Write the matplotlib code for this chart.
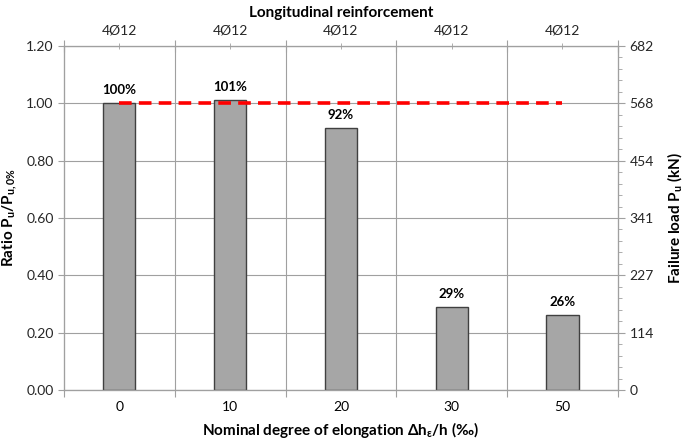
import numpy as np
import matplotlib.pyplot as plt
from matplotlib.ticker import AutoMinorLocator, FixedLocator

plt.rcParams['font.family'] = ['Lato', 'DejaVu Sans']
plt.rcParams['mathtext.fontset'] = 'custom'
plt.rcParams['mathtext.rm'] = 'Lato'
plt.rcParams['mathtext.it'] = 'Lato:italic'
plt.rcParams['mathtext.bf'] = 'Lato:bold'

# data
elongation = ['0', '10', '20', '30', '50']
reinforcement = ['4Ø12', '4Ø12', '4Ø12', '4Ø12', '4Ø12']
ratio = [1.00, 1.01, 0.915, 0.29, 0.262]
ratio_labels = ['100%', '101%', '92%', '29%', '26%']
ref_ratio = 1.0
right_ticks = ['0', '114', '227', '341', '454', '568', '682']

grey = '#a0a0a0'
x = np.arange(len(elongation))

fig = plt.figure(figsize=(6.85, 4.45), dpi=100)
ax = fig.add_axes([0.0934, 0.1236, 0.8086, 0.773])

ax.bar(x, ratio, width=0.29, color='#a6a6a6', edgecolor='#404040', linewidth=1, zorder=3)
for xi, r, lab in zip(x, ratio, ratio_labels):
    ax.text(xi, r + 0.025, lab, ha='center', va='bottom', fontsize=9.5, fontweight='bold', zorder=4)

ax.plot([x[0], x[-1]], [ref_ratio, ref_ratio], color='#ff0000', lw=2.6,
        dashes=(3.5, 2), zorder=5)

ax.set_xlim(-0.5, len(x) - 0.5)
ax.set_ylim(0, 1.2)
ax.set_yticks(np.arange(0, 1.21, 0.2))
ax.set_yticklabels(['%.2f' % v for v in np.arange(0, 1.21, 0.2)])
ax.yaxis.grid(True, color=grey, lw=0.8, zorder=0)

# x: labels at centres, ticks / grid at boundaries
bounds = np.arange(-0.5, len(x), 1.0)
ax.set_xticks(bounds)
ax.set_xticklabels([])
ax.set_xticks(x, minor=True)
ax.set_xticklabels(elongation, minor=True)
ax.tick_params(axis='x', which='minor', length=0, pad=8)
ax.tick_params(axis='x', which='major', length=5, color=grey)
for b in bounds[1:-1]:
    ax.axvline(b, color=grey, lw=0.8, zorder=0)
ax.tick_params(axis='y', length=4, color=grey)
ax.tick_params(labelsize=10, labelcolor='#262626')
ax.tick_params(axis='x', which='minor', labelsize=10)

for s in ax.spines.values():
    s.set_color(grey)

ax.set_xlabel(r'Nominal degree of elongation Δh$_\mathbf{ε}$/h (‰)', fontsize=11,
              fontweight='bold', labelpad=5)
ax.set_ylabel(r'Ratio P$_\mathbf{u}$/P$_\mathbf{u,0\%}$', fontsize=11,
              fontweight='bold', labelpad=5)

# right axis
ax2 = ax.twinx()
ax2.set_ylim(0, 1.2)
ax2.set_yticks(np.arange(0, 1.21, 0.2))
ax2.set_yticklabels(right_ticks)
ax2.yaxis.set_minor_locator(AutoMinorLocator(5))
ax2.tick_params(axis='y', which='major', length=5, color=grey, labelsize=10, labelcolor='#262626')
ax2.tick_params(axis='y', which='minor', length=3, color=grey)
ax2.set_ylabel(r'Failure load P$_\mathbf{u}$ (kN)', fontsize=11, fontweight='bold', labelpad=8)
for s in ax2.spines.values():
    s.set_color(grey)

# top axis
ax3 = ax.twiny()
ax3.set_xlim(ax.get_xlim())
ax3.set_xticks(bounds)
ax3.set_xticklabels([])
ax3.xaxis.set_minor_locator(FixedLocator(x))
ax3.set_xticklabels(reinforcement, minor=True)
ax3.tick_params(axis='x', which='major', direction='inout', length=8, color=grey)
ax3.tick_params(axis='x', which='minor', direction='inout', length=4, color=grey,
                labelsize=10, labelcolor='#262626', pad=5)
ax3.set_xlabel('Longitudinal reinforcement', fontsize=11, fontweight='bold', labelpad=5)
for s in ax3.spines.values():
    s.set_color(grey)

fig.savefig('out.png', dpi=100)
